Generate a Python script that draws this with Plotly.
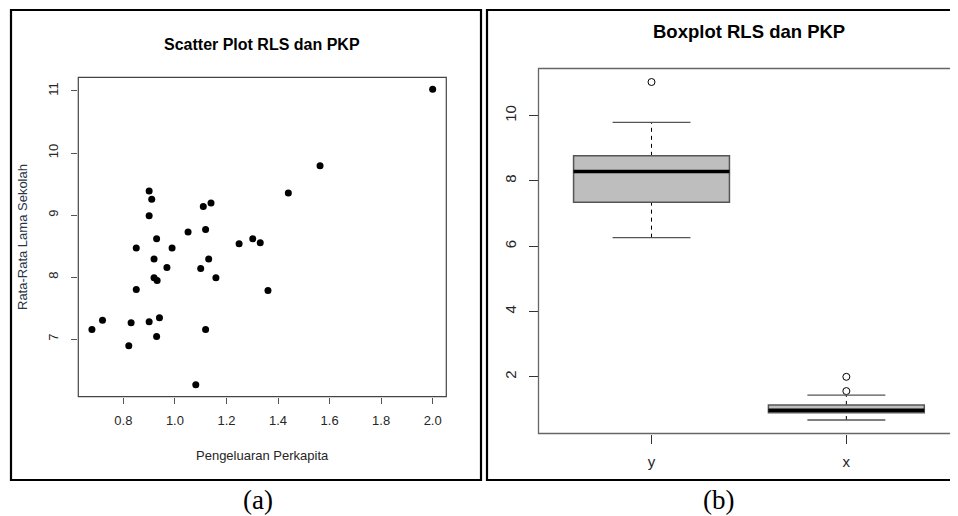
import math
import plotly.graph_objects as go

# ---------------- data ----------------
pkp = [2.000, 1.563, 1.440, 0.900, 0.910, 1.110, 1.140, 0.900, 1.051, 1.119,
       0.929, 1.302, 1.331, 1.249, 0.850, 0.989, 0.919, 1.131, 0.969, 1.100,
       0.919, 0.931, 1.159, 0.850, 1.361, 0.719, 0.678, 0.830, 0.900, 0.940,
       1.119, 0.929, 0.821, 1.081]
rls = [11.03, 9.796, 9.355, 9.387, 9.253, 9.140, 9.194, 8.989, 8.726, 8.769,
       8.618, 8.618, 8.554, 8.538, 8.468, 8.468, 8.290, 8.290, 8.156, 8.140,
       7.989, 7.946, 7.989, 7.801, 7.785, 7.306, 7.156, 7.263, 7.280, 7.344,
       7.156, 7.043, 6.892, 6.263]

scatter_xticks = [0.8, 1.0, 1.2, 1.4, 1.6, 1.8, 2.0]
scatter_yticks = [7, 8, 9, 10, 11]
box_yticks = [2, 4, 6, 8, 10]
box_names = ["y", "x"]
box_series = [rls, pkp]

# page body has an 8px margin: the figure starts at (8, 8) in the window
OFF = 8
W, H = 958 - OFF, 516 - OFF


def fx(p):
    return (p - OFF) / W


def fy(p):
    return 1 - (p - OFF) / H


def fivenum(v):
    s = sorted(v)
    n = len(s)
    n4 = math.floor((n + 3) / 2) / 2
    d = [1, n4, (n + 1) / 2, n + 1 - n4, n]
    return [0.5 * (s[math.floor(k) - 1] + s[math.ceil(k) - 1]) for k in d]


def data_range(lo, hi):
    pad = (hi - lo) * 0.04
    return [lo - pad, hi + pad]


def open_right_path(x0, x1, y0, y1):
    # top, left and bottom sides only (right side falls outside the picture)
    return f"M {x1},{y1} L {x0},{y1} L {x0},{y0} L {x1},{y0}"


fig = go.Figure()

# ---------------- scatter ----------------
fig.add_trace(go.Scatter(
    x=pkp, y=rls, mode="markers", xaxis="x", yaxis="y",
    marker=dict(color="black", size=7), showlegend=False, hoverinfo="x+y"))

# ---------------- boxplot ----------------
shapes = []
for i, (name, vals) in enumerate(zip(box_names, box_series)):
    pos = i + 1
    mn, q1, med, q3, mx = fivenum(vals)
    iqr = q3 - q1
    lo_f, hi_f = q1 - 1.5 * iqr, q3 + 1.5 * iqr
    inside = [v for v in vals if lo_f <= v <= hi_f]
    wlo, whi = min(inside), max(inside)
    outs = [v for v in vals if v < lo_f or v > hi_f]
    hw, cw = 0.4, 0.2
    # whiskers (dashed)
    for a, b in [(q3, whi), (wlo, q1)]:
        shapes.append(dict(type="line", xref="x2", yref="y2", x0=pos, x1=pos,
                           y0=a, y1=b, line=dict(color="black", width=1, dash="4px,4px")))
    # staples
    for v in [wlo, whi]:
        shapes.append(dict(type="line", xref="x2", yref="y2", x0=pos - cw, x1=pos + cw,
                           y0=v, y1=v, line=dict(color="#555555", width=1.3)))
    # box
    shapes.append(dict(type="rect", xref="x2", yref="y2", x0=pos - hw, x1=pos + hw,
                       y0=q1, y1=q3, fillcolor="#BEBEBE",
                       line=dict(color="#555555", width=1.5)))
    # median
    shapes.append(dict(type="line", xref="x2", yref="y2", x0=pos - hw, x1=pos + hw,
                       y0=med, y1=med, line=dict(color="black", width=3.5)))
    if outs:
        fig.add_trace(go.Scatter(
            x=[pos] * len(outs), y=outs, mode="markers", xaxis="x2", yaxis="y2",
            marker=dict(symbol="circle-open", color="black", size=7,
                        line=dict(width=1)),
            showlegend=False))

# plot-region boxes
shapes.append(dict(type="rect", xref="paper", yref="paper",
                   x0=fx(78.3), x1=fx(446.3), y0=fy(396.7), y1=fy(77.3),
                   line=dict(color="#444444", width=1.2), layer="above"))
shapes.append(dict(type="path", xref="paper", yref="paper",
                   path=open_right_path(fx(538.5), 1.0, fy(433.5), fy(68.5)),
                   line=dict(color="#666666", width=1.3), layer="above"))
# outer frames
shapes.append(dict(type="rect", xref="paper", yref="paper",
                   x0=fx(11), x1=fx(481), y0=fy(480), y1=fy(10),
                   line=dict(color="black", width=2.2)))
shapes.append(dict(type="path", xref="paper", yref="paper",
                   path=open_right_path(fx(487), 1.0, fy(480), fy(10)),
                   line=dict(color="black", width=2.2)))

small = dict(family="Liberation Sans, Arial", size=13, color="#262626")
big = dict(family="Liberation Sans, Arial", size=15, color="#262626")

annotations = [
    dict(text="<b>Scatter Plot RLS dan PKP</b>", x=fx(262.3), y=fy(45),
         font=dict(family="Liberation Sans, Arial", size=16, color="black")),
    dict(text="Pengeluaran Perkapita", x=fx(262.3), y=fy(455), font=small),
    dict(text="Rata-Rata Lama Sekolah", x=fx(22), y=fy(237), textangle=-90,
         font=dict(family="Liberation Sans, Arial", size=13, color="#2a3548")),
    dict(text="<b>Boxplot RLS dan PKP</b>", x=fx(749), y=fy(31.7),
         font=dict(family="Liberation Sans, Arial", size=18.5, color="black")),
    dict(text="(a)", x=fx(258), y=fy(500),
         font=dict(family="Liberation Serif, Times New Roman", size=27, color="black")),
    dict(text="(b)", x=fx(718), y=fy(500),
         font=dict(family="Liberation Serif, Times New Roman", size=27, color="black")),
]
for a in annotations:
    a.update(xref="paper", yref="paper", showarrow=False,
             xanchor="center", yanchor="middle")

sx_rng = data_range(min(pkp), max(pkp))
sy_rng = data_range(min(rls), max(rls))
by_rng = data_range(min(pkp + rls), max(pkp + rls))
bx_lo = 0.5 - 0.08
bx_hi = 2.573

fig.update_layout(
    width=W, height=H, margin=dict(l=0, r=0, t=0, b=0),
    paper_bgcolor="white", plot_bgcolor="white", showlegend=False,
    xaxis=dict(domain=[fx(78.3), fx(446.3)], range=sx_rng,
               tickvals=scatter_xticks, ticktext=[f"{v:.1f}" for v in scatter_xticks],
               ticks="outside", ticklen=6, tickcolor="#555555", tickwidth=1,
               showgrid=False, zeroline=False, showline=False,
               tickfont=small, ticklabelstandoff=6, anchor="y"),
    yaxis=dict(domain=[fy(396.7), fy(77.3)], range=sy_rng,
               tickvals=scatter_yticks, ticktext=[str(v) for v in scatter_yticks],
               ticks="outside", ticklen=6, tickcolor="#555555", tickwidth=1,
               tickangle=-90, showgrid=False, zeroline=False, showline=False,
               tickfont=small, ticklabelstandoff=8, anchor="x"),
    xaxis2=dict(domain=[fx(538.5), 1.0], range=[bx_lo, bx_hi],
                tickvals=[1, 2], ticktext=box_names,
                ticks="outside", ticklen=9, tickcolor="#333333", tickwidth=1,
                showgrid=False, zeroline=False, showline=False,
                tickfont=big, ticklabelstandoff=5, anchor="y2"),
    yaxis2=dict(domain=[fy(433.5), fy(68.5)], range=by_rng,
                tickvals=box_yticks, ticktext=[str(v) for v in box_yticks],
                ticks="outside", ticklen=9, tickcolor="#333333", tickwidth=1,
                tickangle=-90, showgrid=False, zeroline=False, showline=False,
                tickfont=big, ticklabelstandoff=7, anchor="x2"),
    shapes=shapes, annotations=annotations,
)

fig.write_html("out.html")
